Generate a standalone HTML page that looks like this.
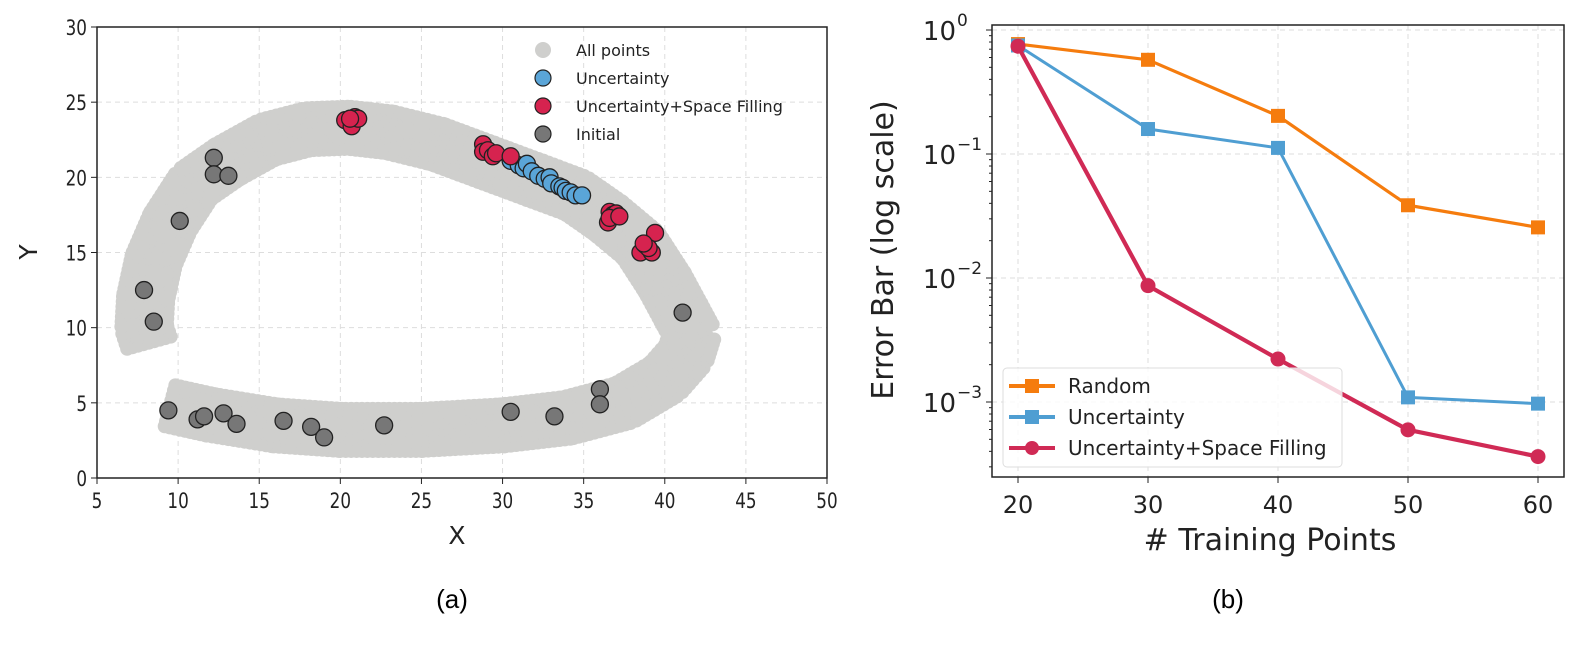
<!DOCTYPE html>
<html><head><meta charset="utf-8"><style>
body{margin:0;background:#fff;}
svg{display:block;font-family:"DejaVu Sans","Liberation Sans",sans-serif;}
</style></head><body>
<svg id="fig" width="1578" height="645" viewBox="0 0 1578 645">
<g id="left"></g>
<g id="right"></g>
<text x="452" y="608" font-size="26" text-anchor="middle" font-family="Liberation Sans, sans-serif">(a)</text>
<text x="1228" y="608" font-size="26" text-anchor="middle" font-family="Liberation Sans, sans-serif">(b)</text>
</svg>
<script>
// ---- Left panel data ----
const bandCenterX=[8.2,7.9,8,8.5,9.5,11,13,15.5,18,20.5,23,26,29,32,34.5,36.5,38.5,40,41,41.7,41.3,40,37.5,34,30,25,20,16,12,9.5];
const bandCenterY=[9,10,12,14.5,17,19.5,21,22.5,23.2,23.3,23,22.2,21,19.8,18.8,17.3,15.5,13,11,9.6,8.2,6.6,5,4,3.5,3.2,3.2,3.5,4.2,4.8];
const bandHalfWidth=1.4;
const initialX=[12.2,12.2,13.1,10.1,7.9,8.5,9.4,11.2,11.6,12.8,13.6,16.5,18.2,19,22.7,30.5,33.2,36,36,41.1];
const initialY=[21.3,20.2,20.1,17.1,12.5,10.4,4.5,3.9,4.1,4.3,3.6,3.8,3.4,2.7,3.5,4.4,4.1,5.9,4.9,11];
const uncX=[30.5,31,31.3,31.5,31.8,32.2,32.6,32.9,33,33.5,33.7,33.9,34.2,34.5,34.9];
const uncY=[21.1,20.8,20.6,20.9,20.4,20.1,19.9,20,19.6,19.4,19.3,19.1,19.0,18.8,18.8];
const usfX=[20.3,20.7,20.9,21.1,20.6,28.8,28.8,29.1,29.4,29.6,30.5,36.6,36.8,37,36.5,36.6,37.2,38.5,38.8,39.2,39.4,39,38.7];
const usfY=[23.8,23.4,24,23.9,23.9,22.2,21.7,21.8,21.4,21.6,21.4,17.7,17.5,17.6,17.0,17.3,17.4,15,15.5,15,16.3,15.3,15.6];
const xTicksL=[5,10,15,20,25,30,35,40,45,50];
const yTicksL=[0,5,10,15,20,25,30];
// ---- Right panel data ----
const nPoints=[20,30,40,50,60];
const randomVals=[0.77,0.575,0.203,0.0386,0.0256];
const uncVals=[0.75,0.159,0.112,0.00109,0.00097];
const usfVals=[0.74,0.00867,0.00222,0.000596,0.000363];
const yDecades=[0,-1,-2,-3];

const NS="http://www.w3.org/2000/svg";
function mk(parent,tag,attrs,text){const e=document.createElementNS(NS,tag);for(const k in attrs)e.setAttribute(k,attrs[k]);if(text!==undefined)e.textContent=text;parent.appendChild(e);return e;}

// Left axes
const L={x0:97,x1:827,y0:478,y1:27};
const lx=v=>L.x0+(v-5)/45*(L.x1-L.x0);
const ly=v=>L.y0-(v/30)*(L.y0-L.y1);
const left=document.getElementById('left');
xTicksL.forEach(t=>{
  const gl=mk(left,'line',{x1:lx(t),x2:lx(t),y1:L.y1,y2:L.y0,stroke:'#ddd','stroke-dasharray':'5,4','stroke-width':1});
  
  
  mk(left,'line',{x1:lx(t),x2:lx(t),y1:L.y0,y2:L.y0+6,stroke:'#222'});
  const tl=mk(left,'text',{x:lx(t),y:L.y0+30,'font-size':21,'text-anchor':'middle',fill:'#222',transform:`translate(${lx(t)},0) scale(0.8,1) translate(${-lx(t)},0)`},t);
  
  
});
yTicksL.forEach(t=>{
  const gl=mk(left,'line',{x1:L.x0,x2:L.x1,y1:ly(t),y2:ly(t),stroke:'#ddd','stroke-dasharray':'5,4','stroke-width':1});
  
  
  mk(left,'line',{x1:L.x0-6,x2:L.x0,y1:ly(t),y2:ly(t),stroke:'#222'});
  const tl=mk(left,'text',{x:L.x0-10,y:ly(t)+8,'font-size':21,'text-anchor':'end',fill:'#222',transform:`translate(${L.x0-10},0) scale(0.8,1) translate(${-(L.x0-10)},0)`},t);
  
  
});
// gray band
const band=mk(left,'g',{fill:'#cfcfcd'});


for(let i=0;i<bandCenterX.length-1;i++){
  const ax=bandCenterX[i],ay=bandCenterY[i],bx=bandCenterX[i+1],by=bandCenterY[i+1];
  const dx=bx-ax,dy=by-ay,len=Math.hypot(dx,dy),nx=-dy/len,ny=dx/len;
  const steps=Math.max(2,Math.ceil(len/0.35));
  for(let s=0;s<=steps;s++){
    const f=s/steps;
    for(let o=-bandHalfWidth;o<=bandHalfWidth+1e-6;o+=0.35){
      mk(band,'circle',{cx:lx(ax+dx*f+nx*o),cy:ly(ay+dy*f+ny*o),r:7});
    }
  }
}
function pts(xs,ys,fill,name){
  const g=mk(left,'g',{});
  
  
  xs.forEach((x,i)=>{
    const c=mk(g,'circle',{cx:lx(x),cy:ly(ys[i]),r:8.5,fill:fill,stroke:'#222','stroke-width':1.3});
    
    
  });
}
pts(initialX,initialY,'#777','initial');
pts(uncX,uncY,'#5aa5d8','uncertainty');
pts(usfX,usfY,'#d6234f','uncertainty-space-filling');
mk(left,'rect',{x:L.x0,y:L.y1,width:L.x1-L.x0,height:L.y0-L.y1,fill:'none',stroke:'#222','stroke-width':1.5});
// left legend
const legL=[['All points','#cfcfcd',false],['Uncertainty','#5aa5d8',true],['Uncertainty+Space Filling','#d6234f',true],['Initial','#777',true]];
legL.forEach((e,i)=>{
  const y=50+i*28;
  const g=mk(left,'g',{});
  
  
  mk(g,'circle',{cx:543,cy:y,r:8,fill:e[1],stroke:e[2]?'#222':'none','stroke-width':1.2});
  mk(g,'text',{x:576,y:y+6,'font-size':16,fill:'#222'},e[0]);
});
const xt=mk(left,'text',{x:457,y:544,'font-size':25,'text-anchor':'middle',fill:'#222'},'X');


const yt=mk(left,'text',{x:37,y:252,'font-size':25,'text-anchor':'middle',fill:'#222',transform:'rotate(-90 37 252)'},'Y');



// Right axes
const R={x0:992,x1:1564,y0:477,y1:25};
const rx=v=>1018+(v-20)/40*520;
const ry=v=>30-Math.log10(v)*124;
const right=document.getElementById('right');
nPoints.forEach(t=>{
  const gl=mk(right,'line',{x1:rx(t),x2:rx(t),y1:R.y1,y2:R.y0,stroke:'#ddd','stroke-dasharray':'5,4'});
  
  
  mk(right,'line',{x1:rx(t),x2:rx(t),y1:R.y0,y2:R.y0+6,stroke:'#222'});
  const tl=mk(right,'text',{x:rx(t),y:R.y0+36,'font-size':24,'text-anchor':'middle',fill:'#222'},t);
  
  
});
yDecades.forEach(d=>{
  const y=ry(Math.pow(10,d));
  const gl=mk(right,'line',{x1:R.x0,x2:R.x1,y1:y,y2:y,stroke:'#ddd','stroke-dasharray':'5,4'});
  
  
  mk(right,'line',{x1:R.x0-6,x2:R.x0,y1:y,y2:y,stroke:'#222'});
  const tl=mk(right,'text',{x:R.x0-36,y:y+10,'font-size':26,'text-anchor':'end',fill:'#222'},'10');
  
  
  mk(right,'text',{x:R.x0-35,y:y-4,'font-size':17,'text-anchor':'start',fill:'#222'},d===0?'0':'\u2212'+(-d));
  for(let m=2;m<=9;m++){
    const my=ry(m*Math.pow(10,d-1));
    if(my<=R.y0&&my>=R.y1) mk(right,'line',{x1:R.x0-3,x2:R.x0,y1:my,y2:my,stroke:'#222'});
  }
});
function series(vals,color,w,shape,name){
  const g=mk(right,'g',{});
  
  
  mk(g,'polyline',{points:vals.map((v,i)=>rx(nPoints[i])+','+ry(v)).join(' '),fill:'none',stroke:color,'stroke-width':w,'stroke-linejoin':'round'});
  vals.forEach((v,i)=>{
    let m;
    if(shape==='s') m=mk(g,'rect',{x:rx(nPoints[i])-7,y:ry(v)-7,width:14,height:14,fill:color});
    else m=mk(g,'circle',{cx:rx(nPoints[i]),cy:ry(v),r:7.5,fill:color});
    
    
  });
}
series(randomVals,'#f57c0e',3.2,'s','random-series');
series(uncVals,'#4f9ed2',3,'s','uncertainty-series');
series(usfVals,'#d02a55',4.2,'c','usf-series');
mk(right,'rect',{x:R.x0,y:R.y1,width:R.x1-R.x0,height:R.y0-R.y1,fill:'none',stroke:'#222','stroke-width':1.5});
// right legend
const lg=mk(right,'g',{});


mk(lg,'rect',{x:1003,y:368,width:339,height:99,rx:4,fill:'rgba(255,255,255,0.8)',stroke:'#ddd'});
const legR=[['Random','#f57c0e','s'],['Uncertainty','#4f9ed2','s'],['Uncertainty+Space Filling','#d02a55','c']];
legR.forEach((e,i)=>{
  const y=386+i*31;
  const g=mk(lg,'g',{});
  
  
  mk(g,'line',{x1:1009,x2:1055,y1:y,y2:y,stroke:e[1],'stroke-width':4});
  if(e[2]==='s') mk(g,'rect',{x:1025,y:y-7,width:14,height:14,fill:e[1]});
  else mk(g,'circle',{cx:1032,cy:y,r:7,fill:e[1]});
  mk(g,'text',{x:1068,y:y+7,'font-size':20,fill:'#222'},e[0]);
});
const rxt=mk(right,'text',{x:1270,y:550,'font-size':30,'text-anchor':'middle',fill:'#222'},'# Training Points');


const ryt=mk(right,'text',{x:893,y:250,'font-size':30,'text-anchor':'middle',fill:'#222',transform:'rotate(-90 893 250)'},'Error Bar (log scale)');


</script>
</body></html>
